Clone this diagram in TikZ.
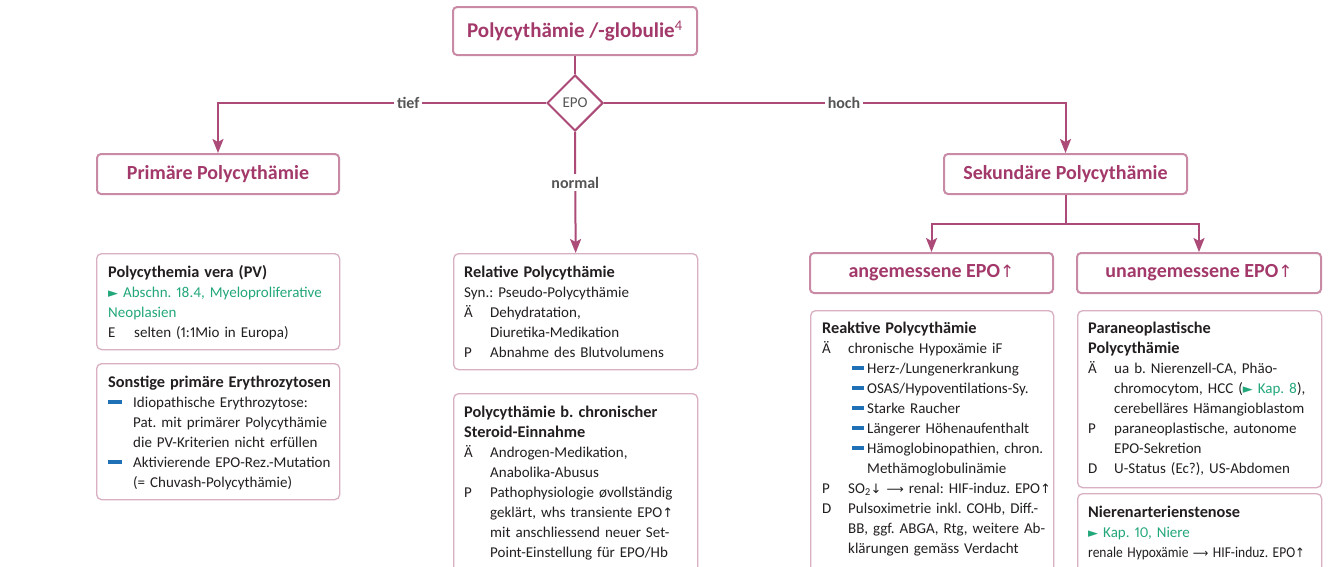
\documentclass[tikz,border=0pt]{standalone}
\usepackage{fontspec}
\usepackage{graphicx}
\setmainfont{Carlito}[Numbers=Proportional]
\newfontfamily\symf{DejaVu Sans}
\usetikzlibrary{shapes.geometric,arrows.meta}
\setlength{\parskip}{0pt}
\frenchspacing
\definecolor{plum}{HTML}{A3396A}
\definecolor{plumline}{HTML}{AC4A78}
\definecolor{pinkbd}{HTML}{C98AA6}
\definecolor{pinklt}{HTML}{D9AFC2}
\definecolor{lblgray}{HTML}{555555}
\definecolor{bodyblack}{HTML}{231F20}
\definecolor{linkgreen}{HTML}{22A77B}
\definecolor{dashblue}{HTML}{1F70B5}
\newcommand\ua{{\symf\fontsize{13}{13}\selectfont ↑}}
\newcommand\uah{{\mdseries\symf\fontsize{17}{17}\selectfont ↑}}
\newcommand\da{{\symf\fontsize{13}{13}\selectfont ↓}}
\newcommand\lra{{\symf\fontsize{12}{12}\selectfont ⟶}}
\newcommand\tri{{\symf\fontsize{13}{13}\selectfont ►}}
\newcommand\bdash[1]{\textcolor{dashblue}{\rule[3pt]{#1}{4pt}}}
\newcommand\itm[2]{\par\noindent\hangindent=26pt\hangafter=1\makebox[26pt][l]{#1}#2\par}
\newcommand\bul[1]{\par\noindent\hangindent=25pt\hangafter=1\makebox[25pt][l]{\bdash{14pt}}#1\par}
\newcommand\subi[1]{\par\noindent\hangindent=45pt\hangafter=1\hspace*{30pt}\bdash{12pt}\hspace{3pt}#1\par}
\newcommand\fst{\rule{0pt}{15pt}}
\newcommand\dtitle[1]{{\bfseries\fontsize{16.3}{20}\selectfont\fst #1}}
\tikzset{
  hbox/.style={draw=pinkbd, line width=2pt, rounded corners=4pt, fill=white,
    text=plum, font=\bfseries\fontsize{20}{24}\selectfont, inner sep=0pt},
  dbox/.style={draw=pinklt, line width=1.3pt, rounded corners=5pt, fill=white,
    anchor=north west, inner sep=0pt},
  dtext/.style={anchor=north west, inner sep=0pt, text width=236pt, align=left,
    text=bodyblack, font=\fontsize{15}{20}\selectfont},
  conn/.style={draw=plumline, line width=2pt},
  arr/.style={conn, -{Stealth[length=14pt,width=11pt,inset=3pt]}},
  lbl/.style={fill=white, text=lblgray, font=\bfseries\fontsize{16}{18}\selectfont, inner sep=3pt},
  epo/.style={diamond, draw=plumline, line width=2pt, fill=white, minimum width=56pt,
    minimum height=56pt, inner sep=0pt, text=lblgray, font=\fontsize{15}{18}\selectfont}
}
\begin{document}
\begin{tikzpicture}[x=1pt,y=-1pt]
\useasboundingbox (0,0) rectangle (1337,566);
\clip (0,0) rectangle (1337,566);
\fill[white] (0,0) rectangle (1337,566);
% heading boxes
\node[hbox, minimum width=244pt, minimum height=48pt, font=\bfseries\fontsize{21}{24}\selectfont] (top) at (575,31)
  {Polycythämie /-globulie\textsuperscript{\mdseries 4}};
\node[epo] (epo) at (575,103) {EPO};
\node[hbox, minimum width=242pt, minimum height=40pt] (prim) at (218,174) {Primäre Polycythämie};
\node[hbox, minimum width=243pt, minimum height=40pt] (sek) at (1065.5,174) {Sekundäre Polycythämie};
\node[hbox, minimum width=243pt, minimum height=40pt] (ang) at (931.5,273) {angemessene EPO\uah};
\node[hbox, minimum width=244pt, minimum height=40pt] (unang) at (1199,273) {unangemessene EPO\uah};
% detail boxes
\node[dbox, minimum width=243pt, minimum height=96pt] (pvbox) at (96,253) {};
\node[dbox, minimum width=243pt, minimum height=136pt] (sonbox) at (96,363) {};
\node[dbox, minimum width=244pt, minimum height=116pt] (relbox) at (453,253) {};
\node[dbox, minimum width=244pt, minimum height=220pt] (sterbox) at (453,393) {};
\node[dbox, minimum width=243pt, minimum height=300pt] (reakbox) at (810,310) {};
\node[dbox, minimum width=244pt, minimum height=177pt] (parabox) at (1077,310) {};
\node[dbox, minimum width=244pt, minimum height=120pt] (nierbox) at (1077,493) {};
% detail texts
\node[dtext] (pvtext) at (108,262) {%
\noindent\dtitle{Polycythemia vera (PV)}\par
\noindent{\color{linkgreen}\tri\ Abschn. 18.4, Myeloproliferative\newline Neoplasien}
\itm{E}{selten (1:1Mio in Europa)}};
\node[dtext] (sontext) at (108,372) {%
\noindent\dtitle{Sonstige primäre Erythrozytosen}
\bul{Idiopathische Erythrozytose:\newline Pat. mit primärer Polycythämie\newline die PV-Kriterien nicht erfüllen}
\bul{Aktivierende EPO-Rez.-Mutation\newline (= Chuvash-Polycythämie)}};
\node[dtext] (reltext) at (464,262) {%
\noindent\dtitle{Relative Polycythämie}\par
\noindent Syn.: Pseudo-Polycythämie
\itm{Ä}{Dehydratation,\newline Diuretika-Medikation}
\itm{P}{Abnahme des Blutvolumens}};
\node[dtext] (stertext) at (464,402) {%
\noindent\dtitle{Polycythämie b. chronischer\newline Steroid-Einnahme}
\itm{Ä}{Androgen-Medikation,\newline Anabolika-Abusus}
\itm{P}{Pathophysiologie øvollständig\newline geklärt, whs transiente EPO\ua\newline mit anschliessend neuer Set-\newline Point-Einstellung für EPO/Hb}};
\node[dtext] (reaktext) at (822,318) {%
\noindent\dtitle{Reaktive Polycythämie}
\itm{Ä}{chronische Hypoxämie iF}
\subi{Herz-/Lungenerkrankung}
\subi{OSAS/Hypoventilations-Sy.}
\subi{Starke Raucher}
\subi{Längerer Höhenaufenthalt}
\subi{Hämoglobinopathien, chron.\newline Methämoglobulinämie}
\itm{P}{SO\textsubscript{2}\da\ \lra\ renal: HIF-induz. EPO\ua}
\itm{D}{Pulsoximetrie inkl. COHb, Diff.-\newline BB, ggf. ABGA, Rtg, weitere Ab-\newline klärungen gemäss Verdacht}};
\node[dtext] (paratext) at (1088,318) {%
\noindent\dtitle{Paraneoplastische\newline Polycythämie}
\itm{Ä}{ua b. Nierenzell-CA, Phäo-\newline chromocytom, HCC ({\color{linkgreen}\tri\ Kap. 8}),\newline cerebelläres Hämangioblastom}
\itm{P}{paraneoplastische, autonome\newline EPO-Sekretion}
\itm{D}{U-Status (Ec?), US-Abdomen}};
\node[dtext] (niertext) at (1088,502) {%
\noindent\dtitle{Nierenarterienstenose}\par
\noindent{\color{linkgreen}\tri\ Kap. 10, Niere}\par
\noindent\scalebox{0.9}[1]{renale Hypoxämie \lra\ HIF-induz. EPO\ua}};
% connectors
\draw[conn] (top.south) -- (epo.north);
\draw[arr] (epo.west) -| node[lbl, pos=0.21] (ltief) {tief} (prim.north);
\draw[arr] (epo.east) -| node[lbl, pos=0.26] (lhoch) {hoch} (sek.north);
\draw[arr] (epo.south) -- node[lbl, pos=0.42] (lnormal) {normal} (relbox.north);
\draw[conn] (sek.south) -- ++(0,29) coordinate (split);
\draw[arr] (split) -| (ang.north);
\draw[arr] (split) -| (unang.north);
\end{tikzpicture}
\end{document}
